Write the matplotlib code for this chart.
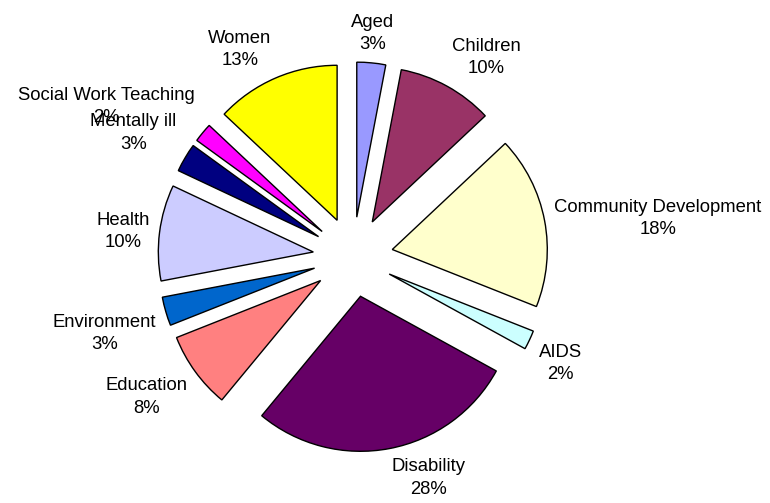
import numpy as np
import matplotlib
matplotlib.use('Agg')
import matplotlib.pyplot as plt

# ── Data ──
categories = ['Aged', 'Children', 'Community Development', 'AIDS', 'Disability',
              'Education', 'Environment', 'Health', 'Mentally ill',
              'Social Work Teaching', 'Women']
shares = [3, 10, 18, 2, 28, 8, 3, 10, 3, 2, 13]
colors = ['#9999FF', '#993366', '#FFFFCC', '#CCFFFF', '#660066',
          '#FF8080', '#0066CC', '#CCCCFF', '#000080', '#FF00FF', '#FFFF00']

# ── Layout (pixels) ──
W, H = 770, 503
CX, CY = 353, H - 257
RADIUS = 155
EXPLODE = 40          # pie() offsets in data units, not radius fraction
LABEL_R = 205

plt.rcParams['font.family'] = ['Liberation Sans', 'DejaVu Sans']

fig = plt.figure(figsize=(W / 100, H / 100), dpi=100)
ax = fig.add_axes([0, 0, 1, 1])

wedges, _ = ax.pie(shares, colors=colors, startangle=90, counterclock=False,
                   explode=[EXPLODE] * len(shares), center=(CX, CY), radius=RADIUS,
                   wedgeprops=dict(edgecolor='black', linewidth=1.0))

total = sum(shares)
for w, name, v in zip(wedges, categories, shares):
    a = np.deg2rad((w.theta1 + w.theta2) / 2)
    ca, sa = np.cos(a), np.sin(a)
    ha = 'left' if ca > 0.1 else ('right' if ca < -0.1 else 'center')
    va = 'bottom' if sa > 0.25 else ('top' if sa < -0.25 else 'center')
    ax.text(CX + LABEL_R * ca, CY + LABEL_R * sa, f'{name}\n{round(100 * v / total)}%',
            ha=ha, va=va, multialignment='center', fontsize=13.3,
            linespacing=1.4, color='black')

ax.set_xlim(0, W)
ax.set_ylim(0, H)
ax.set_aspect('auto')
ax.axis('off')

plt.savefig('out.png', dpi=100)
plt.close()
